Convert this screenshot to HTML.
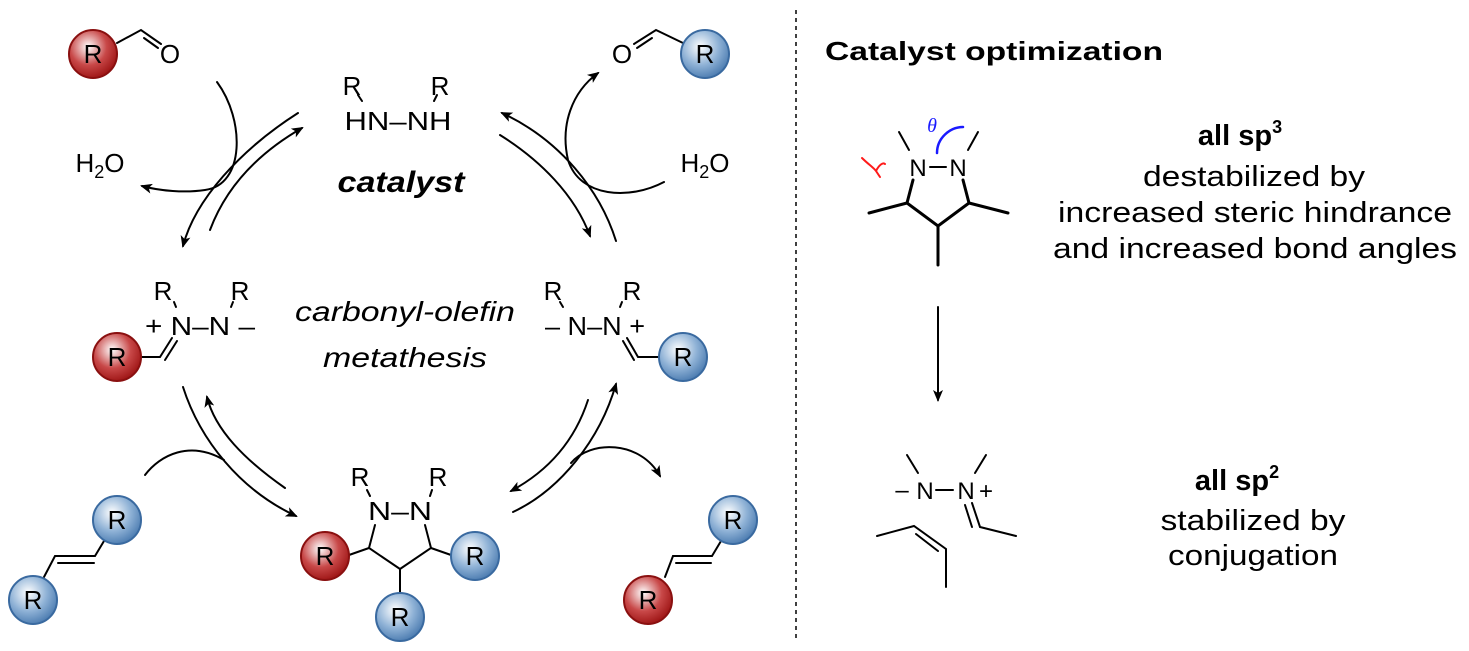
<!DOCTYPE html>
<html><head><meta charset="utf-8"><style>
html,body{margin:0;padding:0;background:#fff;}
svg{display:block;font-family:"Liberation Sans",Arial,sans-serif;}
</style></head><body>
<svg width="1469" height="651" viewBox="0 0 1469 651" xmlns="http://www.w3.org/2000/svg">
<defs>
<radialGradient id="rg" cx="0.4" cy="0.35" r="0.7">
<stop offset="0" stop-color="#ffffff"/><stop offset="0.55" stop-color="#c84848"/><stop offset="1" stop-color="#9a1010"/></radialGradient>
<radialGradient id="bg" cx="0.4" cy="0.35" r="0.7">
<stop offset="0" stop-color="#ffffff"/><stop offset="0.55" stop-color="#8fb2d6"/><stop offset="1" stop-color="#4677ad"/></radialGradient>
<marker id="ah" viewBox="0 0 12 10" refX="10" refY="5" markerWidth="13" markerHeight="10" markerUnits="userSpaceOnUse" orient="auto">
<path d="M0,0 L12,5 L0,10 L3,5 Z" fill="#000"/></marker>
</defs>
<g stroke="#000" stroke-width="2" fill="none" stroke-linecap="round">
<path d="M117,43 L141,30 L161,44"/><path d="M144,38 L158,48" />
<path d="M634,44 L656,30 L683,43"/><path d="M637,48 L652,38"/>
<path d="M358,95 L362,101 M437,95 L434,101"/>
<path d="M174,302 L176,307 M233,302 L231,307"/>
<path d="M141,357 L160,357 L172,338 M165,360 L177,341"/>
<path d="M560,302 L563,307 M622,302 L620,307"/>
<path d="M660,357 L638,357 L627,338 M634,360 L623,341"/>
<path d="M367,490 L370,496 M432,490 L430,496"/>
<path d="M375,525 L369,548 L400,569 L431,548 L425,525"/>
<path d="M369,548 L349,555 M431,548 L451,555 M400,569 L400,594"/>
<path d="M44,577 L55,556 L95,556 L104,541 M58,563 L94,563"/>
<path d="M665,577 L673,556 L712,556 L721,541 M676,563 L711,563"/>
<path d="M217,82 C245,120 245,185 205,190 C185,193 160,191 142,186" marker-end="url(#ah)"/>
<path d="M298,113 C240,150 195,200 183,246" marker-end="url(#ah)"/>
<path d="M210,230 C225,190 255,155 302,128" marker-end="url(#ah)"/>
<path d="M500,135 C540,160 575,195 590,236" marker-end="url(#ah)"/>
<path d="M616,241 C600,190 560,140 502,113" marker-end="url(#ah)"/>
<path d="M664,182 C630,200 580,198 568,160 C560,125 572,92 598,73" marker-end="url(#ah)"/>
<path d="M183,387 C200,440 240,490 296,516" marker-end="url(#ah)"/>
<path d="M285,488 C245,460 215,430 207,397" marker-end="url(#ah)"/>
<path d="M145,475 C160,455 190,440 224,460"/>
<path d="M588,400 C575,440 550,470 511,491" marker-end="url(#ah)"/>
<path d="M513,512 C560,490 600,440 616,384" marker-end="url(#ah)"/>
<path d="M571,463 C590,440 640,440 660,476" marker-end="url(#ah)"/>
<path d="M796,10 L796,640" stroke-width="1.5" stroke-dasharray="4,4" stroke-linecap="butt"/>
<path d="M899,132 L909,150 M978,132 L968,150 M930,167 L946,167"/>
<path d="M913,180 L907,203 L938,226 L969,203 L963,180 M907,203 L869,213 M969,203 L1008,213 M938,226 L938,265" stroke-width="3"/>
<path d="M937,153 C937,138 950,127 963,127" stroke="#1a1aff" stroke-width="2.5"/>
<path d="M862,158 C868,164 874,168 876,171 M876,171 L880,177 M876,171 C879,165 883,162 885,164" stroke="#ff1a1a" stroke-width="2"/>
<path d="M938,307 L938,400" marker-end="url(#ah)"/>
<path d="M907,455 L918,473 M986,455 L975,473 M936,490 L953,490"/>
<path d="M972,503 L980,527 L1016,536 M965,505 L972,527"/>
<path d="M877,536 L914,526 L946,549 L946,587 M916,534 L938,551"/>
</g>
<g stroke-width="2">
<circle cx="93" cy="54" r="24" fill="url(#rg)" stroke="#8a1010"/>
<circle cx="705" cy="54" r="24" fill="url(#bg)" stroke="#3a6aa0"/>
<circle cx="117" cy="357" r="24" fill="url(#rg)" stroke="#8a1010"/>
<circle cx="683" cy="357" r="24" fill="url(#bg)" stroke="#3a6aa0"/>
<circle cx="325" cy="556" r="24" fill="url(#rg)" stroke="#8a1010"/>
<circle cx="475" cy="556" r="24" fill="url(#bg)" stroke="#3a6aa0"/>
<circle cx="400" cy="617" r="24" fill="url(#bg)" stroke="#3a6aa0"/>
<circle cx="117" cy="520" r="24" fill="url(#bg)" stroke="#3a6aa0"/>
<circle cx="33" cy="600" r="24" fill="url(#bg)" stroke="#3a6aa0"/>
<circle cx="733" cy="520" r="24" fill="url(#bg)" stroke="#3a6aa0"/>
<circle cx="648" cy="600" r="24" fill="url(#rg)" stroke="#8a1010"/>
</g>
<g font-size="26" text-anchor="middle" fill="#000">
<text x="93" y="63">R</text><text x="705" y="63">R</text>
<text x="117" y="366">R</text><text x="683" y="366">R</text>
<text x="325" y="565">R</text><text x="475" y="565">R</text><text x="400" y="626">R</text>
<text x="117" y="529">R</text><text x="33" y="609">R</text>
<text x="733" y="529">R</text><text x="648" y="609">R</text>
<text x="170" y="63">O</text><text x="622" y="63">O</text>
<text x="352" y="95">R</text><text x="440" y="95">R</text>
<text x="398" y="130" textLength="107" lengthAdjust="spacingAndGlyphs">HN–NH</text>
<text x="100" y="172">H<tspan font-size="18" dy="6">2</tspan><tspan dy="-6">O</tspan></text>
<text x="705" y="172">H<tspan font-size="18" dy="6">2</tspan><tspan dy="-6">O</tspan></text>
<text x="163" y="300">R</text><text x="240" y="300">R</text>
<text x="200" y="335" textLength="110" lengthAdjust="spacingAndGlyphs">+ N–N –</text>
<text x="553" y="300">R</text><text x="632" y="300">R</text>
<text x="595" y="335" textLength="100" lengthAdjust="spacingAndGlyphs">– N–N +</text>
<text x="360" y="486">R</text><text x="438" y="486">R</text>
<text x="400" y="520" textLength="64" lengthAdjust="spacingAndGlyphs">N–N</text>
</g>
<text x="401" y="192" font-size="30" font-weight="bold" font-style="italic" text-anchor="middle" textLength="127" lengthAdjust="spacingAndGlyphs">catalyst</text>
<text x="405" y="321" font-size="28" font-style="italic" text-anchor="middle" textLength="220" lengthAdjust="spacingAndGlyphs">carbonyl-olefin</text>
<text x="405" y="367" font-size="28" font-style="italic" text-anchor="middle" textLength="164" lengthAdjust="spacingAndGlyphs">metathesis</text>
<text x="825" y="60" font-size="26" font-weight="bold" textLength="338" lengthAdjust="spacingAndGlyphs">Catalyst optimization</text>
<g font-size="24" text-anchor="middle">
<text x="918" y="176">N</text><text x="958" y="176">N</text>
<text x="902" y="498">–</text><text x="925" y="499">N</text><text x="966" y="499">N</text><text x="986" y="499">+</text>
</g>
<text x="932" y="132" font-size="20" font-style="italic" fill="#1a1aff" font-family="Liberation Serif,serif" text-anchor="middle">θ</text>
<g font-size="29" text-anchor="middle">
<text x="1240" y="145" font-weight="bold">all sp<tspan font-size="18" dy="-12">3</tspan></text>
<text x="1254" y="186" textLength="222" lengthAdjust="spacingAndGlyphs">destabilized by</text>
<text x="1255" y="222" textLength="394" lengthAdjust="spacingAndGlyphs">increased steric hindrance</text>
<text x="1255" y="258" textLength="404" lengthAdjust="spacingAndGlyphs">and increased bond angles</text>
<text x="1237" y="490" font-weight="bold">all sp<tspan font-size="18" dy="-12">2</tspan></text>
<text x="1253" y="530" textLength="185" lengthAdjust="spacingAndGlyphs">stabilized by</text>
<text x="1253" y="565" textLength="170" lengthAdjust="spacingAndGlyphs">conjugation</text>
</g>
</svg>
</body></html>
